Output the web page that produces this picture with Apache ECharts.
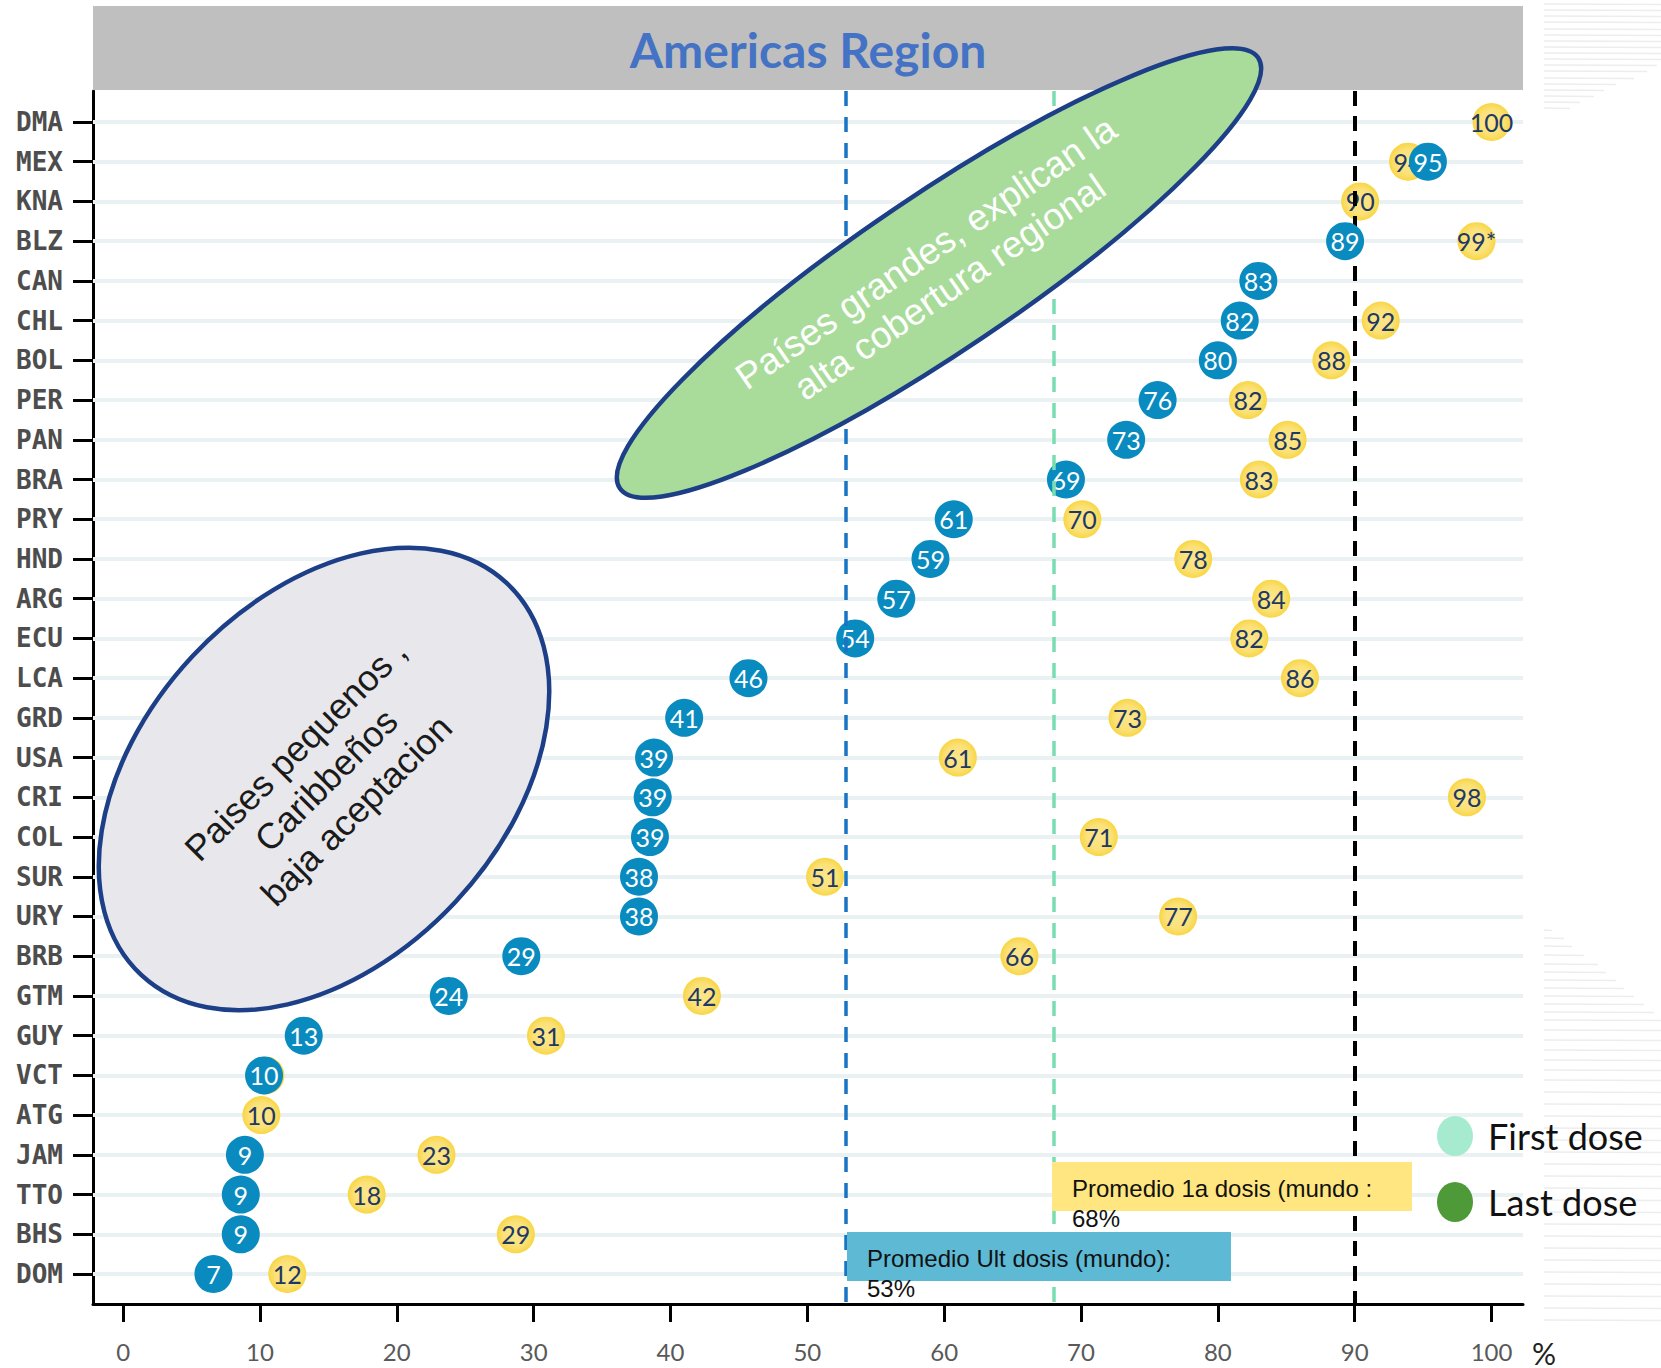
<!DOCTYPE html>
<html>
<head>
<meta charset="utf-8">
<script src="https://cdn.jsdelivr.net/npm/echarts@6/dist/echarts.min.js"></script>
<style>
html,body{margin:0;padding:0;background:#fff;}
#chart{width:1661px;height:1368px;}
</style>
</head>
<body>
<div id="chart"></div>
<script>
// ---- data ----
const countries = ['DMA','MEX','KNA','BLZ','CAN','CHL','BOL','PER','PAN','BRA','PRY','HND','ARG','ECU','LCA','GRD','USA','CRI','COL','SUR','URY','BRB','GTM','GUY','VCT','ATG','JAM','TTO','BHS','DOM'];
// First dose (yellow markers)
const firstDose = [100, 93.9, 90.4, 98.9, null, 91.9, 88.3, 82.2, 85.1, 83.0, 70.1, 78.2, 83.9, 82.3, 86.0, 73.4, 61.0, 98.2, 71.3, 51.3, 77.1, 65.5, 42.3, 30.9, 10.4, 10.1, 22.9, 17.8, 28.7, 12.0];
// Last dose (blue markers)
const lastDose = [null, 95.35, null, 89.3, 82.96, 81.6, 80.0, 75.6, 73.3, 68.9, 60.7, 59.0, 56.5, 53.5, 45.7, 41.0, 38.8, 38.7, 38.5, 37.7, 37.7, 29.1, 23.8, 13.2, 10.3, null, 8.9, 8.6, 8.6, 6.6];
const firstDoseFlag = {BLZ: '*'};
const xTicks = [0, 10, 20, 30, 40, 50, 60, 70, 80, 90, 100];
const worldAvgLast = 52.8;   // "Promedio Ult dosis (mundo): 53%"
const worldAvgFirst = 68;    // "Promedio 1a dosis (mundo : 68%"
const targetLine = 90;

const chart = echarts.init(document.getElementById('chart'), null, {renderer: 'svg'});

const toPoints = (arr) => arr.map((v, i) => v == null ? null : [v, i]).filter(d => d);
const rowIdx = countries.map((c, i) => i);
const deg = Math.PI / 180;

// faint paper-like streaks on the right margin (decoration of the original slide)
const streakTop = [[4, 117], [10, 117], [16, 117], [22, 117], [29, 117], [35, 117], [41, 117], [47, 117], [53, 117], [59, 117], [65, 113], [71, 103], [78, 90], [84, 72], [90, 60], [96, 50], [102, 36], [108, 26]];
const streakBot = [[930, 8], [938, 20], [946, 28], [955, 40], [964, 54], [972, 62], [980, 72], [988, 80], [996, 90], [1004, 100], [1012, 110], [1020, 117], [1030, 117], [1040, 117], [1050, 117], [1060, 117], [1070, 117], [1080, 117], [1092, 117], [1104, 117], [1116, 117], [1128, 117], [1140, 117], [1152, 117], [1164, 117], [1176, 117], [1188, 117], [1200, 117], [1212, 117], [1224, 117], [1236, 117], [1248, 117], [1260, 117], [1272, 117], [1284, 117], [1296, 117], [1308, 117], [1320, 117]];
const streaks = streakTop.concat(streakBot).map(s => ({
  type: 'line', z: 0, silent: true,
  shape: {x1: 1544, y1: s[0], x2: 1544 + s[1], y2: s[0] + 0.5},
  style: {stroke: '#EDEDED', lineWidth: 1.5}
}));

const option = {
  animation: false,
  backgroundColor: '#ffffff',
  grid: {left: 93, right: 138, top: 91, bottom: 64, containLabel: false},
  xAxis: {
    type: 'value', min: -2.2, max: 102.3,
    axisLine: {show: true, onZero: false, lineStyle: {color: '#000', width: 3}},
    axisTick: {show: true, customValues: xTicks, length: 18, lineStyle: {color: '#000', width: 3}},
    axisLabel: {customValues: xTicks, margin: 35, color: '#595959', fontFamily: 'Lato', fontSize: 24},
    splitLine: {show: false}
  },
  yAxis: {
    type: 'value', inverse: true, min: -0.78, max: 29.755,
    axisLine: {show: true, onZero: false, lineStyle: {color: '#000', width: 3}},
    axisTick: {show: true, customValues: rowIdx, length: 20, lineStyle: {color: '#000', width: 3}},
    axisLabel: {customValues: rowIdx, margin: 30, color: '#4d4d4d', fontFamily: 'DejaVu Sans Mono', fontWeight: 'bold', fontSize: 26,
      formatter: v => countries[Math.round(v)] || ''},
    splitLine: {show: false}
  },
  legend: {
    orient: 'vertical', left: 1432, top: 1111, itemWidth: 36, itemHeight: 40, itemGap: 26,
    selectedMode: false,
    textStyle: {fontFamily: 'Lato', fontSize: 36, color: '#111', padding: [0, 0, 0, 10]},
    data: [
      {name: 'First dose', icon: 'path://M0,20a18,20 0 1,0 36,0a18,20 0 1,0 -36,0', itemStyle: {color: '#A6EBCF'}},
      {name: 'Last dose', icon: 'path://M0,20a18,20 0 1,0 36,0a18,20 0 1,0 -36,0', itemStyle: {color: '#4E9A38'}}
    ]
  },
  series: [
    {
      name: 'rows', type: 'scatter', data: [], z: 1, silent: true,
      markLine: {z: 1, silent: true, symbol: 'none', label: {show: false},
        lineStyle: {color: '#EAF1F3', width: 4, type: 'solid'},
        data: rowIdx.map(i => ({yAxis: i}))}
    },
    {
      name: 'First dose', type: 'scatter', z: 2,
      symbol: 'circle', symbolSize: 38,
      itemStyle: {color: {type: 'radial', x: 0.5, y: 0.5, r: 0.5,
        colorStops: [{offset: 0, color: '#FCE68C'}, {offset: 0.65, color: '#FBE178'}, {offset: 1, color: '#F8D645'}]}, opacity: 1},
      label: {show: true, position: 'inside', color: '#203864', fontFamily: 'Lato', fontSize: 25,
        formatter: p => Math.round(p.value[0]) + (firstDoseFlag[countries[p.value[1]]] || '')},
      data: toPoints(firstDose)
    },
    {
      name: 'target', type: 'scatter', data: [], z: 3, silent: true,
      markLine: {z: 3, silent: true, symbol: 'none', label: {show: false},
        lineStyle: {color: '#000', width: 4, type: [15, 10]},
        data: [{xAxis: targetLine}]}
    },
    {
      name: 'Last dose', type: 'scatter', z: 4,
      symbol: 'circle', symbolSize: 38,
      itemStyle: {color: '#0A8BBF', opacity: 1},
      label: {show: true, position: 'inside', color: '#ffffff', fontFamily: 'Lato', fontSize: 25,
        formatter: p => String(Math.round(p.value[0]))},
      data: toPoints(lastDose)
    },
    {
      name: 'averages', type: 'scatter', data: [], z: 5, silent: true,
      markLine: {z: 5, silent: true, symbol: 'none', label: {show: false},
        data: [
          {xAxis: worldAvgLast, lineStyle: {color: '#1874C4', width: 3.5, type: [15, 11]}},
          {xAxis: worldAvgFirst, lineStyle: {color: '#7ADDB2', width: 3.5, type: [15, 11]}}
        ]}
    }
  ],
  graphic: streaks.concat([
    {type: 'rect', z: 20, shape: {x: 93, y: 6, width: 1430, height: 84}, style: {fill: '#BFBFBF'}},
    {type: 'text', z: 21, x: 808, y: 49, style: {text: 'Americas Region', fill: '#4472C4', font: 'bold 48px Lato', textAlign: 'center', textVerticalAlign: 'middle'}},
    {type: 'text', z: 21, x: 1544, y: 1353, style: {text: '%', fill: '#222', font: '30px Lato', textAlign: 'center', textVerticalAlign: 'middle'}},
    // yellow note box
    {type: 'rect', z: 22, shape: {x: 1052, y: 1162, width: 360, height: 49}, style: {fill: '#FFE680'}},
    {type: 'text', z: 23, x: 1072, y: 1173, style: {text: 'Promedio 1a dosis (mundo :\n68%', fill: '#111', font: '24px "Liberation Sans"', lineHeight: 30, textAlign: 'left', textVerticalAlign: 'top'}},
    // blue note box
    {type: 'rect', z: 22, shape: {x: 847, y: 1232, width: 384, height: 49}, style: {fill: '#5DB9D4'}},
    {type: 'text', z: 23, x: 867, y: 1243, style: {text: 'Promedio Ult dosis (mundo):\n53%', fill: '#111', font: '24px "Liberation Sans"', lineHeight: 30, textAlign: 'left', textVerticalAlign: 'top'}},
    // green ellipse
    {type: 'ellipse', z: 30, x: 939, y: 273, rotation: 34 * deg,
      shape: {cx: 0, cy: 0, rx: 385, ry: 78}, style: {fill: '#A9DC9A', stroke: '#1C3F87', lineWidth: 4.5}},
    {type: 'text', z: 31, x: 938, y: 270, rotation: 34.5 * deg,
      style: {text: 'Países grandes, explican la\nalta cobertura regional', fill: '#ffffff', font: '37px "Liberation Sans"', lineHeight: 42, textAlign: 'center', textVerticalAlign: 'middle'}},
    // grey ellipse
    {type: 'ellipse', z: 30, x: 324, y: 779, rotation: 47 * deg,
      shape: {cx: 0, cy: 0, rx: 268, ry: 180}, style: {fill: '#E8E8EC', stroke: '#1C3F87', lineWidth: 4.5}},
    {type: 'text', z: 31, x: 326, y: 780, rotation: 45 * deg,
      style: {text: 'Paises pequenos ,\nCaribbeños\nbaja aceptacion', fill: '#1a1a1a', font: '36px "Liberation Sans"', lineHeight: 43, textAlign: 'center', textVerticalAlign: 'middle'}}
  ])
};
chart.setOption(option);
</script>
</body>
</html>
